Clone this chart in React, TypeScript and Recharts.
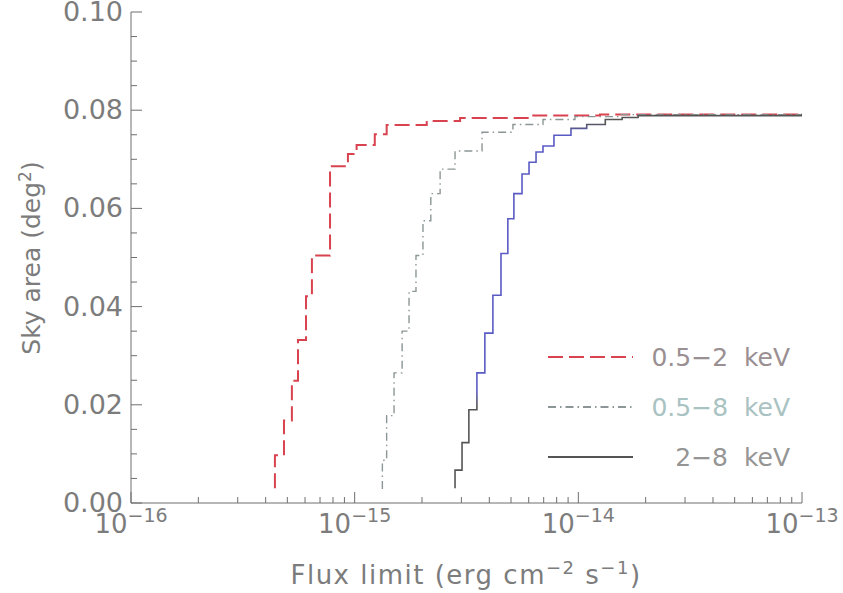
import { Legend, Line, LineChart, XAxis, YAxis } from "recharts";

// 0.5-2 keV
const softFlux = [4.4e-16, 4.4e-16, 4.83e-16, 5.24e-16, 5.58e-16, 6.06e-16, 6.44e-16, 7.76e-16, 9.33e-16, 1.02e-15, 1.23e-15, 1.39e-15, 2.1e-15, 2.96e-15, 6.08e-15, 1.25e-14, 1e-13];
const softArea = [0.003, 0.0097, 0.0168, 0.0249, 0.0332, 0.0421, 0.0504, 0.0686, 0.0711, 0.0729, 0.0751, 0.077, 0.0778, 0.0784, 0.0789, 0.0791, 0.0793];

// 0.5-8 keV
const fullFlux = [1.32e-15, 1.33e-15, 1.39e-15, 1.5e-15, 1.63e-15, 1.75e-15, 1.88e-15, 2.02e-15, 2.19e-15, 2.41e-15, 2.81e-15, 3.71e-15, 5.1e-15, 6.95e-15, 9.66e-15, 1.53e-14, 1e-13];
const fullArea = [0.003, 0.0087, 0.0178, 0.0265, 0.035, 0.0431, 0.0504, 0.0575, 0.063, 0.068, 0.0717, 0.0755, 0.0771, 0.0781, 0.0787, 0.0791, 0.0793];

// 2-8 keV
const hardFlux = [2.81e-15, 2.81e-15, 3.02e-15, 3.24e-15, 3.52e-15, 3.82e-15, 4.15e-15, 4.51e-15, 4.84e-15, 5.15e-15, 5.6e-15, 6.02e-15, 6.47e-15, 6.95e-15, 7.78e-15, 9.27e-15, 1.09e-14, 1.32e-14, 1.57e-14, 1.85e-14, 1e-13];
const hardArea = [0.003, 0.0067, 0.0123, 0.019, 0.0265, 0.0346, 0.0423, 0.0508, 0.0579, 0.063, 0.067, 0.0694, 0.0715, 0.0727, 0.0749, 0.0763, 0.0771, 0.0781, 0.0785, 0.0789, 0.0793];

const xMajor = [1e-16, 1e-15, 1e-14, 1e-13];
const xMinor = [-16, -15, -14].flatMap((e) => [2, 3, 4, 5, 6, 7, 8, 9].map((k) => k * Math.pow(10, e)));
const xTicks = [...xMajor, ...xMinor];
const yTicks = [0, 0.005, 0.01, 0.015, 0.02, 0.025, 0.03, 0.035, 0.04, 0.045, 0.05, 0.055, 0.06, 0.065, 0.07, 0.075, 0.08, 0.085, 0.09, 0.095, 0.1];

const soft = softFlux.map((flux, i) => ({ flux, area: softArea[i] }));
const full = fullFlux.map((flux, i) => ({ flux, area: fullArea[i] }));
const hard = hardFlux.map((flux, i) => ({ flux, area: hardArea[i] }));

const AXIS = "#6e6e6e";
const TEXT = "#7c7c7c";
const FONT = "DejaVu Sans";

const legendStyle: Record<string, { line: string; text: string }> = {
  soft: { line: "#d8434f", text: "#9a8f92" },
  full: { line: "#8c9696", text: "#a9c2c2" },
  hard: { line: "#555555", text: "#959595" },
};
const legendOrder = ["soft", "full", "hard"];

const isMajorX = (v: number) => {
  const e = Math.log10(v);
  return Math.abs(e - Math.round(e)) < 1e-6;
};
const isMajorY = (v: number) => Math.abs(v * 50 - Math.round(v * 50)) < 1e-6;

function BottomTick({ x, y, payload }: any) {
  const v = payload.value;
  const major = isMajorX(v);
  return (
    <g>
      <line x1={x} x2={x} y1={y} y2={y - (major ? 11 : 6)} stroke={AXIS} />
      {major && (
        <text x={x} y={y + 30} textAnchor="middle" fill={TEXT} fontSize={26} fontFamily={FONT}>
          10<tspan dy={-11} fontSize={19}>{"\u2212" + -Math.round(Math.log10(v))}</tspan>
        </text>
      )}
    </g>
  );
}

function TopTick({ x, y, payload }: any) {
  const major = isMajorX(payload.value);
  return <line x1={x} x2={x} y1={y} y2={y + (major ? 11 : 6)} stroke={AXIS} />;
}

function LeftTick({ x, y, payload }: any) {
  const v = payload.value;
  const major = isMajorY(v);
  return (
    <g>
      <line x1={x} x2={x + (major ? 11 : 6)} y1={y} y2={y} stroke={AXIS} />
      {major && (
        <text x={x - 8} y={y + 9} textAnchor="end" fill={TEXT} fontSize={27} fontFamily={FONT}>
          {v.toFixed(2)}
        </text>
      )}
    </g>
  );
}

function RightTick({ x, y, payload }: any) {
  const major = isMajorY(payload.value);
  return <line x1={x} x2={x - (major ? 11 : 6)} y1={y} y2={y} stroke={AXIS} />;
}

function XTitle() {
  return (
    <text x={466} y={584} textAnchor="middle" fill={TEXT} fontSize={26} fontFamily={FONT} letterSpacing={1.5}>
      Flux limit (erg cm<tspan dy={-10} fontSize={18}>{"\u22122"}</tspan>
      <tspan dy={10}> s</tspan>
      <tspan dy={-10} fontSize={18}>{"\u22121"}</tspan>
      <tspan dy={10}>)</tspan>
    </text>
  );
}

function YTitle() {
  return (
    <text transform="translate(40,258) rotate(-90)" textAnchor="middle" fill={TEXT} fontSize={25} fontFamily={FONT}>
      Sky area (deg<tspan dy={-9} fontSize={17}>2</tspan>
      <tspan dy={9}>)</tspan>
    </text>
  );
}

function renderLegend({ payload }: any) {
  const items = [...(payload || [])].sort(
    (a: any, b: any) => legendOrder.indexOf(a.payload?.id) - legendOrder.indexOf(b.payload?.id)
  );
  return (
    <svg width={262} height={150} style={{ display: "block" }}>
      {items.map((entry: any, i: number) => {
        const s = legendStyle[entry.payload?.id] || { line: entry.color, text: TEXT };
        const y = 27 + i * 50;
        return (
          <g key={i}>
            <line x1={8} x2={93} y1={y} y2={y} stroke={s.line} strokeWidth={1.8} strokeDasharray={entry.payload?.strokeDasharray} />
            <text x={250} y={y + 9} textAnchor="end" fill={s.text} fontSize={25} fontFamily={FONT} style={{ whiteSpace: "pre" }}>
              {entry.value}
            </text>
          </g>
        );
      })}
    </svg>
  );
}

export default function App() {
  return (
    <div style={{ position: "absolute", left: 0, top: 0, background: "#fff" }}>
      <LineChart width={843} height={593} margin={{ top: 12, right: 41, bottom: 0, left: 0 }}>
        <defs>
          <linearGradient id="hardStroke" x1="0" y1="0" x2="0" y2="1">
            <stop offset="0" stopColor="#555555" />
            <stop offset="0.025" stopColor="#555555" />
            <stop offset="0.05" stopColor="#5a5ac4" />
            <stop offset="0.74" stopColor="#5a5ac4" />
            <stop offset="0.78" stopColor="#555555" />
            <stop offset="1" stopColor="#555555" />
          </linearGradient>
        </defs>
        <XAxis
          xAxisId="bottom"
          dataKey="flux"
          type="number"
          scale="log"
          domain={[1e-16, 1e-13]}
          allowDataOverflow
          ticks={xTicks}
          interval={0}
          tickSize={0}
          tickMargin={0}
          tick={<BottomTick />}
          height={90}
          axisLine={{ stroke: AXIS }}
          label={<XTitle />}
        />
        <XAxis
          xAxisId="top"
          orientation="top"
          dataKey="flux"
          type="number"
          scale="log"
          domain={[1e-16, 1e-13]}
          allowDataOverflow
          ticks={xTicks}
          interval={0}
          tickSize={0}
          tickMargin={0}
          tick={<TopTick />}
          height={0}
          axisLine={{ stroke: AXIS }}
        />
        <YAxis
          yAxisId="left"
          type="number"
          domain={[0, 0.1]}
          allowDataOverflow
          ticks={yTicks}
          interval={0}
          tickSize={0}
          tickMargin={0}
          tick={<LeftTick />}
          width={131}
          axisLine={{ stroke: AXIS }}
          label={<YTitle />}
        />
        <YAxis
          yAxisId="right"
          orientation="right"
          type="number"
          domain={[0, 0.1]}
          allowDataOverflow
          ticks={yTicks}
          interval={0}
          tickSize={0}
          tickMargin={0}
          tick={<RightTick />}
          width={0}
          axisLine={{ stroke: AXIS }}
        />
        <Line
          id="soft"
          data={soft}
          xAxisId="bottom"
          yAxisId="left"
          dataKey="area"
          name={"0.5\u22122  keV"}
          type="stepAfter"
          stroke="#d8434f"
          strokeWidth={2}
          strokeDasharray="15 6"
          dot={false}
          activeDot={false}
          isAnimationActive={false}
        />
        <Line
          id="full"
          data={full}
          xAxisId="bottom"
          yAxisId="left"
          dataKey="area"
          name={"0.5\u22128  keV"}
          type="stepAfter"
          stroke="#8c9696"
          strokeWidth={1.4}
          strokeDasharray="8 4 1.5 4"
          dot={false}
          activeDot={false}
          isAnimationActive={false}
        />
        <Line
          id="hard"
          data={hard}
          xAxisId="bottom"
          yAxisId="left"
          dataKey="area"
          name={"2\u22128  keV"}
          type="stepAfter"
          stroke="url(#hardStroke)"
          strokeWidth={1.6}
          dot={false}
          activeDot={false}
          isAnimationActive={false}
        />
        <Legend
          layout="vertical"
          align="center"
          verticalAlign="middle"
          content={renderLegend}
          wrapperStyle={{ position: "absolute", left: 540, top: 330, width: 262, height: 150 }}
        />
      </LineChart>
    </div>
  );
}
